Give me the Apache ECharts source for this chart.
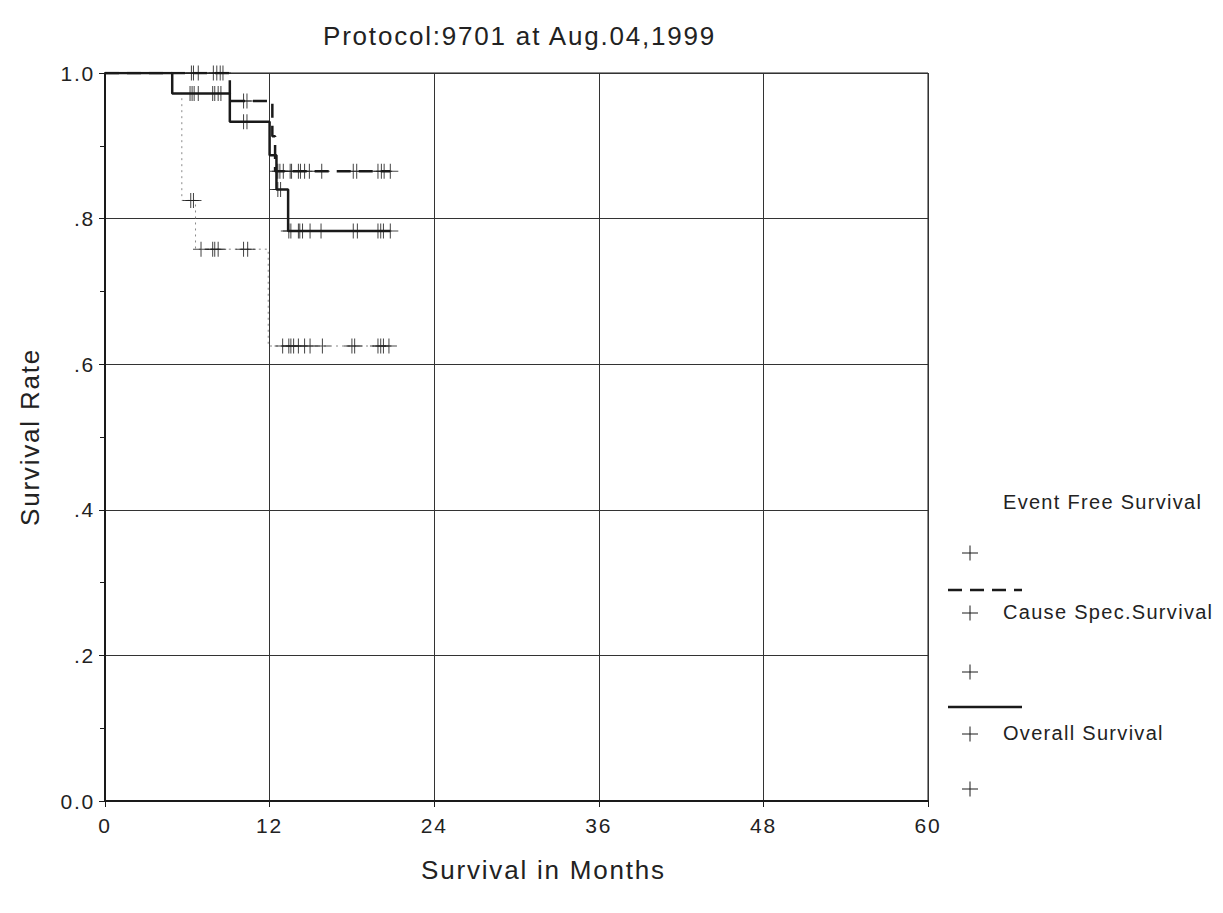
<!DOCTYPE html>
<html>
<head>
<meta charset="utf-8">
<script src="https://cdn.jsdelivr.net/npm/echarts@6/dist/echarts.min.js"></script>
<style>
html, body { margin: 0; padding: 0; background: #ffffff; }
#chart { width: 1223px; height: 913px; }
#chart text { letter-spacing: 1.8px; }
#chart text[style*="20px"] { letter-spacing: 1.3px; }
</style>
</head>
<body>
<div id="chart"></div>
<script>
// ---- Data ----
const titleText = 'Protocol:9701 at Aug.04,1999';
const xTicks = [0, 12, 24, 36, 48, 60];
const xTickLabels = ['0', '12', '24', '36', '48', '60'];
const yTicks = [0, 0.2, 0.4, 0.6, 0.8, 1.0];
const yTickLabels = ['0.0', '.2', '.4', '.6', '.8', '1.0'];
const seriesNames = ['Event Free Survival', 'Cause Spec.Survival', 'Overall Survival'];

// Kaplan-Meier step curves: [month, survival] (value holds until next point)
const efsSteps = [[0, 1], [4.9, 0.972], [5.6, 0.825], [6.6, 0.758], [11.9, 0.625], [20.7, 0.625]];
const causeSteps = [[0, 1], [9.1, 0.9615], [12.2, 0.913], [12.4, 0.865], [20.8, 0.865]];
const overallSteps = [[0, 1], [4.9, 0.972], [9.1, 0.933], [12.0, 0.887], [12.5, 0.840], [13.35, 0.783], [20.8, 0.783]];

// Censored observations: [month, survival]
const efsCensored = [
  [6.25, 0.825], [6.45, 0.825],
  [7.0, 0.758], [7.85, 0.758], [8.0, 0.758], [8.25, 0.758], [10.1, 0.758], [10.4, 0.758],
  [12.95, 0.625], [13.4, 0.625], [13.55, 0.625], [13.75, 0.625], [14.1, 0.625], [14.55, 0.625],
  [14.95, 0.625], [15.85, 0.625], [18.0, 0.625], [18.2, 0.625], [19.9, 0.625], [20.1, 0.625],
  [20.3, 0.625], [20.7, 0.625]
];
const causeCensored = [
  [6.3, 1], [6.45, 1], [6.8, 1], [7.9, 1], [8.15, 1], [8.4, 1], [8.6, 1],
  [10.1, 0.9615], [10.35, 0.9615],
  [12.6, 0.865], [12.75, 0.865], [13.0, 0.865], [13.5, 0.865], [13.6, 0.865], [14.1, 0.865],
  [14.25, 0.865], [14.55, 0.865], [14.9, 0.865], [15.8, 0.865], [18.1, 0.865], [18.35, 0.865],
  [19.9, 0.865], [20.15, 0.865], [20.35, 0.865], [20.8, 0.865]
];
const overallCensored = [
  [6.2, 0.972], [6.35, 0.972], [6.5, 0.972], [6.8, 0.972], [7.85, 0.972], [8.0, 0.972], [8.25, 0.972], [8.45, 0.972],
  [10.1, 0.933], [10.35, 0.933],
  [12.6, 0.840], [12.8, 0.840],
  [13.4, 0.783], [13.55, 0.783], [14.1, 0.783], [14.2, 0.783], [14.4, 0.783], [14.95, 0.783],
  [15.75, 0.783], [18.1, 0.783], [18.4, 0.783], [19.9, 0.783], [20.1, 0.783], [20.3, 0.783], [20.8, 0.783]
];

// ---- Chart ----
const FONT = '"Liberation Sans", Arial, Helvetica, sans-serif';
const INK = '#1a1a1a';
const PLUS = 'path://M8,0L8,15M0,7.5L16,7.5';

function censorSeries(name, data) {
  return {
    name: name + ' (censored)',
    type: 'scatter',
    data: data,
    symbol: PLUS,
    symbolSize: [16, 15],
    itemStyle: { color: 'none', borderColor: INK, borderWidth: 1 },
    silent: true,
    z: 4
  };
}

function plusMark(cx, cy) {
  return [
    { type: 'line', shape: { x1: cx - 8, y1: cy, x2: cx + 8, y2: cy }, style: { stroke: INK, lineWidth: 1 } },
    { type: 'line', shape: { x1: cx, y1: cy - 7.5, x2: cx, y2: cy + 7.5 }, style: { stroke: INK, lineWidth: 1 } }
  ];
}

const legendText = { fill: '#222', font: '20px ' + FONT, textVerticalAlign: 'middle' };

const option = {
  backgroundColor: '#ffffff',
  animation: false,
  title: {
    text: titleText,
    left: 318,
    top: 18,
    textStyle: { fontFamily: FONT, fontSize: 26, fontWeight: 'normal', color: '#222' }
  },
  grid: { left: 105, right: 295, top: 73, bottom: 112, show: true, borderColor: INK, borderWidth: 1, backgroundColor: 'transparent' },
  xAxis: {
    type: 'value', min: 0, max: 60, interval: 12,
    name: 'Survival in Months', nameLocation: 'middle', nameGap: 56,
    nameTextStyle: { fontFamily: FONT, fontSize: 26, color: '#222', padding: [0, 0, 0, 54] },
    axisLine: { show: true, onZero: false, lineStyle: { color: INK, width: 2 } },
    axisTick: { show: true, length: 6, lineStyle: { color: INK, width: 1 } },
    axisLabel: {
      margin: 14, fontFamily: FONT, fontSize: 21, color: '#222',
      formatter: function (v) { const i = xTicks.indexOf(v); return i >= 0 ? xTickLabels[i] : ''; }
    },
    splitLine: { show: true, lineStyle: { color: '#333', width: 1 } }
  },
  yAxis: {
    type: 'value', min: 0, max: 1, interval: 0.2,
    name: 'Survival Rate', nameLocation: 'middle', nameGap: 62, nameRotate: 90,
    nameTextStyle: { fontFamily: FONT, fontSize: 26, color: '#222' },
    axisLine: { show: true, onZero: false, lineStyle: { color: INK, width: 2 } },
    axisTick: { show: true, length: 6, lineStyle: { color: INK, width: 1 } },
    minorTick: { show: true, splitNumber: 2, length: 5, lineStyle: { color: INK, width: 1 } },
    axisLabel: {
      margin: 10, fontFamily: FONT, fontSize: 21, color: '#222',
      formatter: function (v) {
        let best = 0;
        yTicks.forEach(function (t, i) { if (Math.abs(t - v) < Math.abs(yTicks[best] - v)) best = i; });
        return yTickLabels[best];
      }
    },
    splitLine: { show: true, lineStyle: { color: '#333', width: 1 } }
  },
  series: [
    {
      name: seriesNames[0], type: 'line', step: 'end', data: efsSteps, symbol: 'none',
      lineStyle: { color: '#8a8a8a', width: 1, type: [2, 4] }, silent: true, z: 2
    },
    {
      name: seriesNames[1], type: 'line', step: 'end', data: causeSteps, symbol: 'none',
      lineStyle: { color: INK, width: 2.5, type: [14, 8] }, silent: true, z: 3
    },
    {
      name: seriesNames[2], type: 'line', step: 'end', data: overallSteps, symbol: 'none',
      lineStyle: { color: INK, width: 2.5, type: 'solid' }, silent: true, z: 3
    },
    censorSeries(seriesNames[0], efsCensored),
    censorSeries(seriesNames[1], causeCensored),
    censorSeries(seriesNames[2], overallCensored)
  ],
  graphic: [
    { type: 'text', left: 1003, top: 492, style: Object.assign({ text: seriesNames[0] }, legendText) },
    { type: 'group', children: plusMark(970, 553) },
    { type: 'line', shape: { x1: 948, y1: 590, x2: 1022, y2: 590 }, style: { stroke: INK, lineWidth: 2.5, lineDash: [14, 8] } },
    { type: 'group', children: plusMark(970, 613) },
    { type: 'text', left: 1003, top: 602, style: Object.assign({ text: seriesNames[1] }, legendText) },
    { type: 'group', children: plusMark(970, 672) },
    { type: 'line', shape: { x1: 948, y1: 707, x2: 1022, y2: 707 }, style: { stroke: INK, lineWidth: 2.5 } },
    { type: 'group', children: plusMark(970, 734) },
    { type: 'text', left: 1003, top: 723, style: Object.assign({ text: seriesNames[2] }, legendText) },
    { type: 'group', children: plusMark(970, 789) }
  ]
};

const chart = echarts.init(document.getElementById('chart'), null, { renderer: 'svg' });
chart.setOption(option);
</script>
</body>
</html>
